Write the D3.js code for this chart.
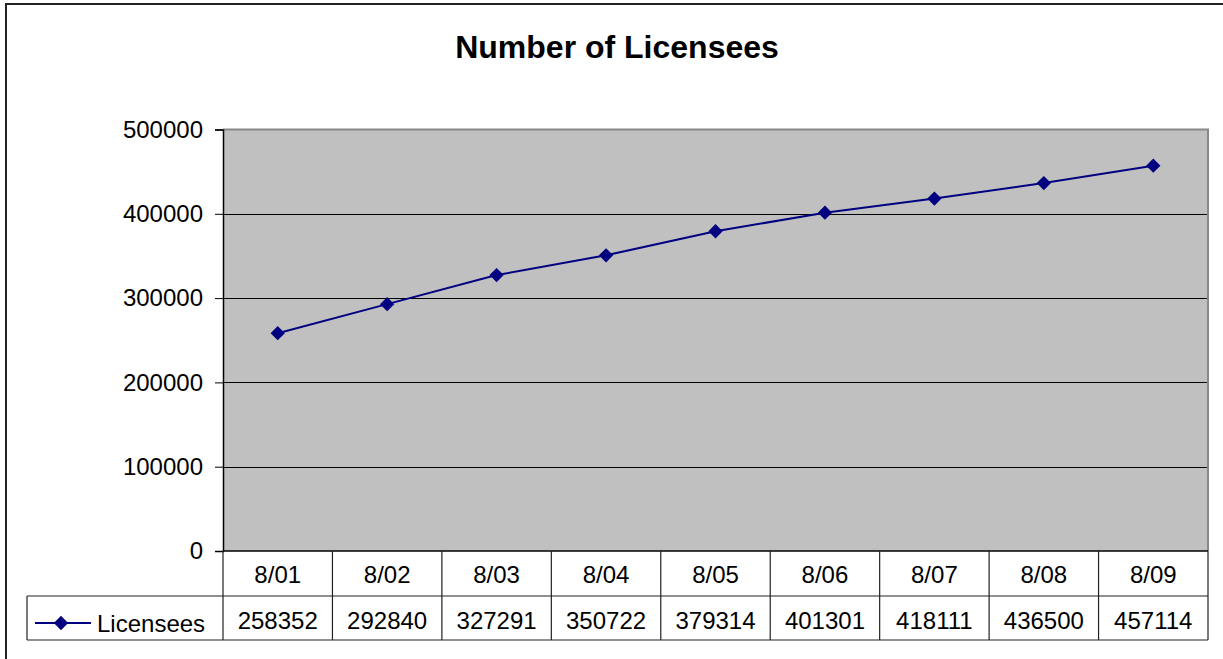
<!DOCTYPE html>
<html>
<head>
<meta charset="utf-8">
<script src="https://cdn.jsdelivr.net/npm/d3@7/dist/d3.min.js"></script>
<style>
  html, body { margin: 0; padding: 0; background: #fff; }
  svg { display: block; font-family: "Liberation Sans", Arial, sans-serif; }
</style>
</head>
<body>
<svg id="chart" width="1223" height="659"></svg>
<script>
// Licensee counts by period
const categories = ["8/01", "8/02", "8/03", "8/04", "8/05", "8/06", "8/07", "8/08", "8/09"];
const licensees = [258352, 292840, 327291, 350722, 379314, 401301, 418111, 436500, 457114];
const yTicks = [0, 100000, 200000, 300000, 400000, 500000];
const seriesName = "Licensees";
const chartTitle = "Number of Licensees";

const svg = d3.select("#chart");
const W = 1223, H = 659;
const plot = { left: 223, right: 1208, top: 129.5, bottom: 551 };
const headerBottom = 596, tableBottom = 640, legendLeft = 27;
const navy = "#000080";

// Outer frame (runs off the right and bottom edges)
svg.append("rect")
  .attr("x", 6).attr("y", 4)
  .attr("width", W + 20).attr("height", H + 20)
  .attr("fill", "#fff").attr("stroke", "#222").attr("stroke-width", 2);

// Title
svg.append("text")
  .attr("x", 617).attr("y", 58)
  .attr("text-anchor", "middle")
  .attr("font-size", 32).attr("font-weight", "bold")
  .text(chartTitle);

const x = d3.scaleBand().domain(categories).range([plot.left, plot.right]);
const y = d3.scaleLinear().domain([0, 500000]).range([plot.bottom, plot.top]);

// Plot background
svg.append("rect")
  .attr("x", plot.left).attr("y", plot.top)
  .attr("width", plot.right - plot.left).attr("height", plot.bottom - plot.top)
  .attr("fill", "#c0c0c0");

// Gridlines
svg.append("g").selectAll("line")
  .data(yTicks.filter(v => v > 0 && v < 500000))
  .join("line")
  .attr("x1", plot.left).attr("x2", plot.right)
  .attr("y1", d => Math.round(y(d)) + 0.5).attr("y2", d => Math.round(y(d)) + 0.5)
  .attr("stroke", "#000").attr("stroke-width", 1);

// Plot border: top and right in gray
svg.append("path")
  .attr("d", `M${plot.left},${plot.top}H${plot.right}V${plot.bottom}`)
  .attr("fill", "none").attr("stroke", "#888").attr("stroke-width", 2);

// Y axis
const yAxis = d3.axisLeft(y).tickValues(yTicks).tickFormat(d3.format("d")).tickSize(8).tickPadding(12);
const ya = svg.append("g")
  .attr("transform", `translate(${plot.left},0)`)
  .call(yAxis);
ya.select(".domain").attr("stroke", "#000").attr("stroke-width", 1.5);
ya.selectAll(".tick line").attr("stroke", "#000");
ya.selectAll(".tick text")
  .attr("font-size", 24).attr("fill", "#000")
  .attr("font-family", "'Liberation Sans', Arial, sans-serif");

// Series line
const line = d3.line()
  .x((d, i) => x(categories[i]) + x.bandwidth() / 2)
  .y(d => y(d));
svg.append("path")
  .datum(licensees)
  .attr("d", line)
  .attr("fill", "none").attr("stroke", navy).attr("stroke-width", 2);

// Diamond markers
const diamond = d3.symbol().type(d3.symbolDiamond2).size(130);
svg.append("g").selectAll("path")
  .data(licensees)
  .join("path")
  .attr("d", diamond)
  .attr("transform", (d, i) => `translate(${x(categories[i]) + x.bandwidth() / 2},${y(d)})`)
  .attr("fill", navy);

// Data table
const table = svg.append("g").attr("stroke", "#222").attr("stroke-width", 1.2).attr("fill", "none");
table.append("line").attr("x1", plot.left).attr("x2", plot.right).attr("y1", plot.bottom).attr("y2", plot.bottom).attr("stroke", "#000").attr("stroke-width", 1.5);
table.append("line").attr("x1", legendLeft).attr("x2", plot.right).attr("y1", headerBottom).attr("y2", headerBottom);
table.append("line").attr("x1", legendLeft).attr("x2", plot.right).attr("y1", tableBottom).attr("y2", tableBottom);
table.append("line").attr("x1", legendLeft).attr("x2", legendLeft).attr("y1", headerBottom).attr("y2", tableBottom);
table.selectAll("line.col")
  .data(categories.map(c => x(c)).concat([plot.right]))
  .join("line")
  .attr("class", "col")
  .attr("x1", d => d).attr("x2", d => d)
  .attr("y1", plot.bottom).attr("y2", tableBottom);

// Category labels
svg.append("g").selectAll("text")
  .data(categories)
  .join("text")
  .attr("x", d => x(d) + x.bandwidth() / 2)
  .attr("y", 583)
  .attr("text-anchor", "middle")
  .attr("font-size", 24)
  .text(d => d);

// Value labels
svg.append("g").selectAll("text")
  .data(licensees)
  .join("text")
  .attr("x", (d, i) => x(categories[i]) + x.bandwidth() / 2)
  .attr("y", 629)
  .attr("text-anchor", "middle")
  .attr("font-size", 24)
  .text(d => d);

// Legend key in the table
svg.append("line")
  .attr("x1", 35).attr("x2", 91).attr("y1", 623).attr("y2", 623)
  .attr("stroke", navy).attr("stroke-width", 2);
svg.append("path")
  .attr("d", diamond)
  .attr("transform", "translate(61,623)")
  .attr("fill", navy);
svg.append("text")
  .attr("x", 97).attr("y", 632)
  .attr("font-size", 24)
  .text(seriesName);
</script>
</body>
</html>
